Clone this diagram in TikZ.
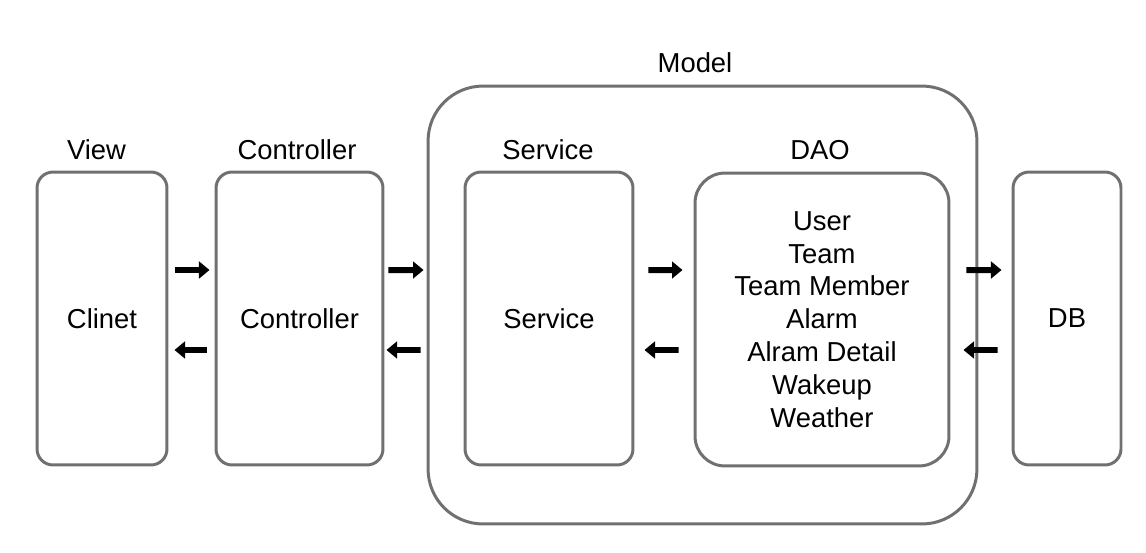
\documentclass[tikz,border=0pt]{standalone}
\usepackage{fontspec}
\setmainfont{Liberation Sans}
\usetikzlibrary{positioning, arrows.meta}

\definecolor{boxgray}{RGB}{112,112,112}

\begin{document}
\begin{tikzpicture}[
  x=0.02cm, y=-0.02cm,
  every node/.style={font=\fontsize{15.6}{18.7}\selectfont},
  layer/.style={draw=boxgray, line width=1.7pt, rounded corners=0.32cm, minimum height=5.86cm},
  ttl/.style={anchor=base},
  fwd/.style={-{Triangle[length=6pt, width=9.5pt]}, line width=3.4pt, black},
]
\useasboundingbox (0,0) rectangle (1146,552);

% ---------- Model (outer) ----------
\node[layer, rounded corners=1.1cm, minimum width=10.98cm, minimum height=8.76cm] (model) at (702.5,305) {};
\node[ttl] (modelT) at (695,72) {Model};

% ---------- Boxes ----------
\node[layer, minimum width=2.6cm] (view) at (102,318.5) {Clinet};
\node[layer, minimum width=3.34cm] (ctrl) at (299.5,318.5) {Controller};
\node[layer, minimum width=3.36cm] (svc) at (549,318.5) {Service};
\node[layer, rounded corners=0.6cm, minimum width=5.08cm, align=center] (dao) at (822,319.5)
  {User\\Team\\Team Member\\Alarm\\Alram Detail\\Wakeup\\Weather};
\node[layer, minimum width=2.16cm] (db) at (1067,318.5) {DB};

% ---------- Titles ----------
\node[ttl] (viewT) at (96.5,159) {View};
\node[ttl] (ctrlT) at (297,159) {Controller};
\node[ttl] (svcT) at (548,159) {Service};
\node[ttl] (daoT) at (820,159) {DAO};

% ---------- Arrows ----------
% View <-> Controller
\draw[fwd, shorten <=0.14cm, shorten >=0.1cm] ([yshift=0.97cm]view.east) -- ([yshift=0.97cm]ctrl.west);
\draw[fwd, shorten <=0.16cm, shorten >=0.12cm] ([yshift=-0.63cm]ctrl.west) -- ([yshift=-0.63cm]view.east);
% Controller <-> Model
\draw[fwd, shorten <=0.08cm, shorten >=0.06cm] ([yshift=0.97cm]ctrl.east) -- ([yshift=0.7cm]model.west);
\draw[fwd, shorten <=0.12cm, shorten >=0.04cm] ([yshift=-0.9cm]model.west) -- ([yshift=-0.63cm]ctrl.east);
% Service <-> DAO
\draw[fwd, shorten <=0.28cm, shorten >=0.22cm] ([yshift=0.97cm]svc.east) -- ([yshift=0.99cm]dao.west);
\draw[fwd, shorten <=0.3cm, shorten >=0.2cm] ([yshift=-0.61cm]dao.west) -- ([yshift=-0.63cm]svc.east);
% DAO <-> DB
\draw[fwd, shorten <=0.32cm, shorten >=0.2cm] ([yshift=0.99cm]dao.east) -- ([yshift=0.97cm]db.west);
\draw[fwd, shorten <=0.28cm, shorten >=0.26cm] ([yshift=-0.63cm]db.west) -- ([yshift=-0.61cm]dao.east);

\end{tikzpicture}
\end{document}
